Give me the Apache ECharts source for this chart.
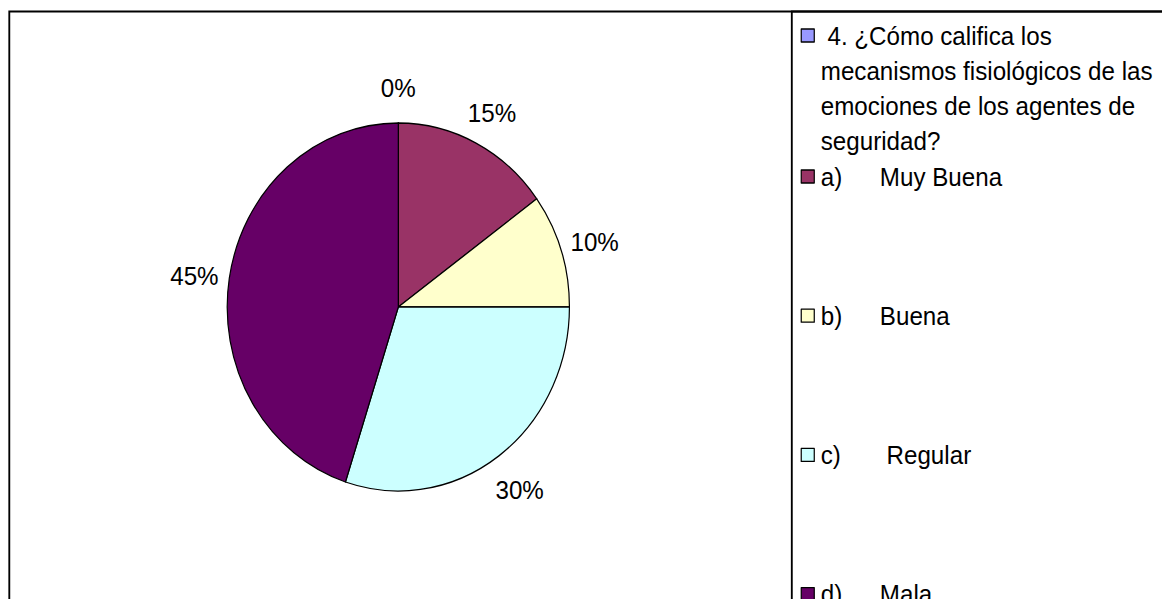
<!DOCTYPE html>
<html>
<head>
<meta charset="utf-8">
<script src="https://cdn.jsdelivr.net/npm/echarts@6/dist/echarts.min.js"></script>
<style>
  html, body { margin: 0; padding: 0; background: #fff; overflow: hidden; }
  /* the chart is laid out slightly wider and squeezed horizontally */
  #chart { width: 1250px; height: 599px; transform: scaleX(0.93); transform-origin: 0 0; background: #fff; }
</style>
</head>
<body>
<div id="chart"></div>
<script>
const categories = [
  ' 4. ¿Cómo califica los\nmecanismos fisiológicos de las\nemociones de los agentes de\nseguridad?',
  'a)\tMuy Buena',
  'b)\tBuena',
  'c)\t Regular',
  'd)\tMala'
];
const values = [0, 15, 10, 30, 45];
const colors = ['#9999FF', '#993366', '#FFFFCC', '#CCFFFF', '#660066'];

const FONT = 'Liberation Sans, Arial, sans-serif';
const pieCenter = [428.3, 307];
const labelCenter = [428.3, 310];

const pieData = categories.map((name, i) => ({
  name: name,
  value: values[i],
  itemStyle: { color: colors[i] }
}));

// transparent ring around the pie that carries the percentage labels
const labelRingData = categories.map((name, i) => ({ name: name, value: values[i] }));

const chart = echarts.init(document.getElementById('chart'), null, { renderer: 'svg' });

chart.setOption({
  animation: false,
  backgroundColor: '#fff',
  graphic: [
    {
      type: 'rect',
      shape: { x: 10, y: 11.5, width: 2000, height: 2000 },
      style: { fill: 'none', stroke: '#000', lineWidth: 2 },
      silent: true
    },
    {
      type: 'rect',
      shape: { x: 851.4, y: 11.5, width: 1000, height: 1000 },
      style: { fill: 'none', stroke: '#000', lineWidth: 2 },
      silent: true
    }
  ],
  legend: [
    {
      orient: 'vertical',
      left: 860.9,
      top: -87,
      height: 1000,
      padding: 0,
      icon: 'rect',
      itemWidth: 14,
      itemHeight: 13,
      selectedMode: false,
      data: [categories[0]],
      itemStyle: { borderColor: '#000', borderWidth: 1.3 },
      // three empty lines above keep the first text line level with the marker
      formatter: function (name) { return '\n\n\n' + name; },
      textStyle: {
        fontFamily: FONT,
        fontSize: 26,
        lineHeight: 35,
        color: '#000',
        padding: [0, 0, 0, 2],
        backgroundColor: 'rgba(255,255,255,0)'
      }
    },
    {
      orient: 'vertical',
      left: 860.9,
      top: 163.5,
      height: 1000,
      padding: 0,
      itemGap: 113.2,
      icon: 'rect',
      itemWidth: 14,
      itemHeight: 13,
      selectedMode: false,
      data: categories.slice(1),
      itemStyle: { borderColor: '#000', borderWidth: 1.3 },
      formatter: function (name) {
        const parts = name.split('\t');
        return '{k|' + parts[0] + '}{v|' + parts[1] + '}';
      },
      textStyle: {
        fontFamily: FONT,
        fontSize: 26,
        color: '#000',
        padding: [0, 0, 0, 2],
        rich: {
          k: { width: 63.5, fontSize: 26, lineHeight: 35, fontFamily: FONT, color: '#000' },
          v: { fontSize: 26, lineHeight: 35, fontFamily: FONT, color: '#000' }
        }
      }
    }
  ],
  series: [
    {
      type: 'pie',
      center: pieCenter,
      radius: 184,
      startAngle: 90,
      clockwise: true,
      avoidLabelOverlap: false,
      silent: true,
      data: pieData,
      itemStyle: { borderColor: '#000', borderWidth: 1.3 },
      label: { show: false },
      labelLine: { show: false },
      emphasis: { disabled: true }
    },
    {
      type: 'pie',
      center: labelCenter,
      radius: [199, 239],
      startAngle: 90,
      clockwise: true,
      avoidLabelOverlap: false,
      silent: true,
      legendHoverLink: false,
      data: labelRingData,
      itemStyle: { color: 'rgba(0,0,0,0)', borderWidth: 0 },
      label: {
        show: true,
        position: 'inside',
        fontFamily: FONT,
        fontSize: 26,
        color: '#000',
        formatter: function (p) { return Math.round(p.percent) + '%'; }
      },
      labelLine: { show: false },
      emphasis: { disabled: true }
    }
  ]
});
</script>
</body>
</html>
